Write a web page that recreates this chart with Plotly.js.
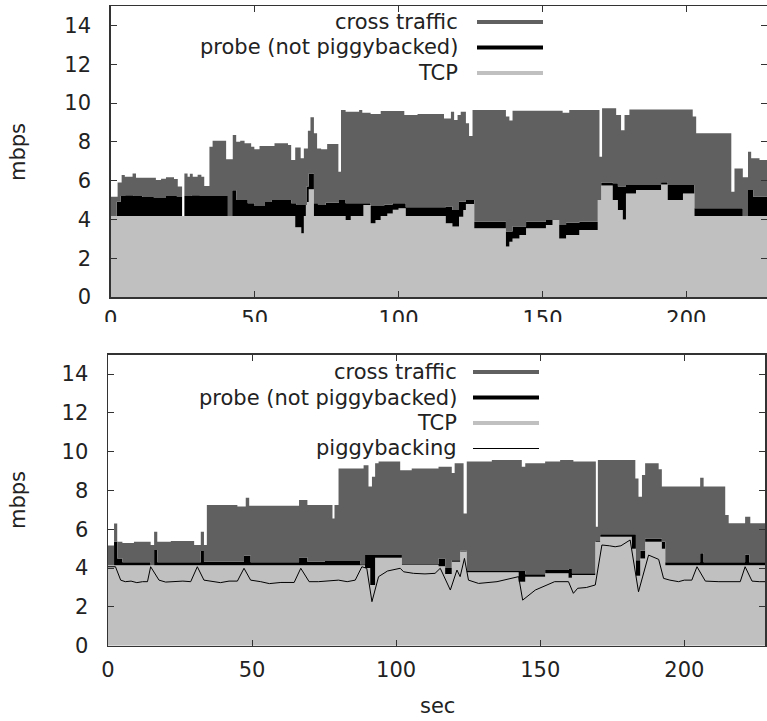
<!DOCTYPE html>
<html>
<head>
<meta charset="utf-8">
<script src="https://cdn.plot.ly/plotly-3.0.1.min.js"></script>
<style>html,body{margin:0;padding:0;background:#fff;}#chart{width:767px;height:721px;}</style>
</head>
<body>
<div id="chart"></div>
<script>
// ---------- Top panel (without piggybacking) ----------
// step breakpoints: x (sec) where each value starts, value = top of band (mbps)
var topTotalX = [0,2.4,3.8,4.9,7.6,8.8,15.7,17.5,19.2,22,23.3,24.8,25.6,26.7,27.5,28.5,30.2,31.5,32.5,34.3,35.4,40.1,42.4,43.6,45,46.5,48.8,49.9,51.7,56.9,61.6,62.7,64.1,66,67.1,68.5,69.4,70.6,71.7,73.1,75.2,79.1,80,81.6,86.3,87.4,90.3,93.8,102,106.6,115.8,118.2,119.3,120.5,121.6,123.4,124.5,125.7,137.3,138.5,139.6,157,159.3,169.8,170.7,175.6,177.3,178.5,180.2,202.2,203.4,215.6,216.7,219.6,221.4,222.5,225.4,228.5];
var topTotal  = [5.17,5.9,6.29,6.2,6.37,6.15,6.03,6.1,6.17,6.08,5.7,4.18,6.37,6.2,6.35,6.2,6.3,6.2,5.72,7.75,8.06,7.1,8.35,8.0,8.06,7.92,7.75,7.61,7.78,7.92,7.83,7.06,7.71,7.15,7.66,8.57,9.26,8.44,7.66,7.61,7.89,6.46,9.64,9.55,9.64,9.5,9.43,9.59,9.38,9.43,9.2,9.55,9.12,9.38,9.55,8.95,8.3,9.64,9.3,9.1,9.6,9.5,9.64,7.23,9.73,9.38,8.6,9.38,9.67,9.3,8.44,5.43,6.63,6.17,7.49,7.15,7.06,7.06];

var topTcpX = [0,64.1,66.2,67.1,67.8,68.8,70.6,81.6,83.4,87.8,90.3,92,93.8,96.1,98,100,102.5,116.4,118.7,121,122.5,123.4,126.3,137.3,138.5,139.6,142,144.3,151.2,153.5,155.8,158.2,162.8,169.2,170.4,174.4,176.2,177.9,179,182.5,191.2,193.5,198.8,202.8,228.5];
var topTcp  = [4.18,3.6,3.28,4.18,4.9,5.55,4.18,3.97,4.18,4.74,3.8,3.97,4.18,4.3,4.5,4.57,4.18,3.8,3.63,4.14,4.48,4.8,3.54,2.6,2.85,3.02,3.2,3.54,3.71,3.97,3.02,3.2,3.45,5.0,5.75,5.0,4.48,4.0,5.34,5.52,5.8,5.0,5.34,4.18,4.18];

var topProbeX = [0,2.1,3.5,5,8,11,15,19,23,24.8,25.6,28,31,36,40.7,42.2,43.6,47.6,50,53.4,56,62.7,64.4,68,68.8,70.6,72,74.7,79.3,81.6,87.4,90.3,95,97.9,102.5,116.4,118.7,121,123.4,126.3,137.3,139.6,144.3,151.2,155.8,158.2,162.8,169.2,170.4,174.4,176.2,179,191.2,193.5,202.8,219.6,221.4,223.2,228.5];
var topProbe  = [4.18,4.91,5.2,5.25,5.2,5.15,5.1,5.2,5.15,4.18,5.2,5.25,5.2,5.2,4.18,5.5,5.0,4.83,4.69,4.9,5.0,4.83,4.74,5.69,6.37,4.83,4.74,4.86,5.0,4.83,4.83,4.69,4.75,4.83,4.62,4.66,4.48,4.91,5.0,3.88,3.37,3.63,3.88,3.97,3.71,3.83,3.88,5.0,5.9,5.86,5.69,5.77,5.92,5.77,4.57,4.18,5.52,5.17,5.17];

// ---------- Bottom panel (with piggybacking) ----------
var botTotalX = [0,2.1,3.2,5,9,14.8,16,17.1,21.8,29.9,32.2,33.3,34.3,44.9,47.8,49,66.3,69.2,77.9,78.6,80,88.7,90.4,91.6,92.7,93.9,101.4,105.4,114.7,119.3,120.3,123.4,124.5,133.2,143.6,144.8,151.7,156.9,161.5,169.3,170,183,184.1,185.3,186.4,191.1,192.2,205.5,206.7,214.2,215.4,221.1,222.9,228.8];
var botTotal  = [5.16,6.3,5.36,5.3,5.36,5.19,5.88,5.36,5.4,5.19,5.88,5.19,7.25,7.17,7.63,7.22,7.51,7.25,6.56,7.25,9.14,9.3,8.2,8.71,9.4,9.49,9.05,9.14,9.22,8.9,9.4,6.82,9.5,9.57,9.22,9.4,9.49,9.57,9.49,6.13,9.57,8.62,7.68,8.8,9.4,9.1,8.2,8.66,8.2,6.74,6.31,6.65,6.31,6.31];

var botTcpX = [0,89.2,91,92.7,102,114.7,117,119.3,122.2,124.5,142.5,144.8,151.7,159.8,161,169.1,170.8,181.8,183.2,184.7,186.4,192.2,193.4,228.8];
var botTcp  = [4.15,4.0,3.13,4.53,4.16,4.1,3.7,4.33,4.85,3.78,3.3,3.56,3.73,3.5,3.64,5.36,5.62,5.0,3.6,4.5,5.36,5.0,4.15,4.15];

var botProbeX = [0,2.1,3.2,5,14.8,16,17.1,32.2,33.3,47.2,49.5,66.3,69.2,75.3,87.5,89.2,92.7,102,114.7,117,119.3,122.2,124.5,142.5,144.8,151.7,159.8,161,169.1,170.8,181.8,183.2,184.7,186.4,192.2,193.4,205.5,206.7,221.1,222.5,228.8];
var botProbe  = [4.15,5.36,4.5,4.3,4.15,4.93,4.3,4.88,4.33,4.64,4.3,4.54,4.33,4.36,4.2,4.67,4.67,4.2,4.5,4.0,4.4,4.9,3.85,3.85,3.68,3.9,3.95,3.73,5.4,5.74,5.74,4.4,4.9,5.53,5.36,4.3,4.76,4.3,4.7,4.3,4.3];

var pigX = [0,2.6,4.4,6,8,10,12,13.7,14.8,17.7,20,23,26,28.7,31,33.3,36,39,42,44.9,47.2,49.5,53,56,60,64.6,66.9,69.8,73,76.7,80,83,85.8,88.1,89.8,91.6,93.9,97,101.4,102.6,106,110,113.5,115.3,118.8,121.1,122.2,123.7,125.1,128.6,135,142.5,143.9,148.3,151.7,155,159.8,161.5,163,166,169.1,171.4,174,176,178,181.2,184.1,187.6,191.1,192.8,195,198,200,202.6,204.4,207.3,212,216,219.4,221.1,223.5,226,228.8];
var pig  = [4.07,4.07,3.38,3.3,3.33,3.25,3.3,3.3,4.07,3.38,3.28,3.3,3.33,3.3,4.07,3.38,3.33,3.25,3.33,3.33,3.99,3.38,3.3,3.2,3.26,3.26,3.99,3.3,3.3,3.33,3.38,3.3,3.38,4.07,3.99,2.27,3.56,3.85,3.99,3.81,3.73,3.7,3.73,3.99,2.87,3.9,3.56,4.5,3.38,3.21,3.3,3.56,2.35,2.87,3.1,3.3,3.3,2.7,2.96,3.0,3.13,5.19,5.15,5.1,5.15,5.45,2.78,4.67,4.45,3.47,3.38,3.3,3.38,3.38,4.07,3.33,3.3,3.28,3.3,4.07,3.33,3.3,3.3];

var legendTop = ['cross traffic','probe (not piggybacked)','TCP'];
var legendBot = ['cross traffic','probe (not piggybacked)','TCP','piggybacking'];

var xTicks = [0,50,100,150,200];
var yTicks = [0,2,4,6,8,10,12,14];

var CROSS = '#606060', PROBE = '#000000', TCPC = '#c0c0c0';
var FONT = 'DejaVu Sans';
var FS = 21;
var W = 767, H = 721;
function px(x){return x/W;}
function py(y){return (H-y)/H;}

function band(x, y, xa, ya, color, fill){
  return {x:x, y:y, xaxis:xa, yaxis:ya, type:'scatter', mode:'lines',
    line:{width:0, shape:'hv', color:color}, fill:fill, fillcolor:color,
    hoverinfo:'skip', showlegend:false};
}

var traces = [
  band(topTcpX, topTcp, 'x', 'y', TCPC, 'tozeroy'),
  band(topProbeX, topProbe, 'x', 'y', PROBE, 'tonexty'),
  band(topTotalX, topTotal, 'x', 'y', CROSS, 'tonexty'),
  band(botTcpX, botTcp, 'x2', 'y2', TCPC, 'tozeroy'),
  band(botProbeX, botProbe, 'x2', 'y2', PROBE, 'tonexty'),
  band(botTotalX, botTotal, 'x2', 'y2', CROSS, 'tonexty'),
  {x:pigX, y:pig, xaxis:'x2', yaxis:'y2', type:'scatter', mode:'lines',
   line:{width:1, color:'#000'}, hoverinfo:'skip', showlegend:false}
];

function xax(domain, anchor, standoff){
  return {domain:domain, anchor:anchor, range:[0,228], tickvals:xTicks, ticktext:xTicks.map(String),
    ticks:'inside', ticklen:6, tickwidth:1, tickcolor:'#333', showline:true, linecolor:'#333', linewidth:1.5,
    mirror:'ticks', showgrid:false, zeroline:false, ticklabelstandoff:standoff,
    tickfont:{family:FONT, size:FS, color:'#222'}};
}
function yax(domain, anchor){
  return {domain:domain, anchor:anchor, range:[0,15], tickvals:yTicks, ticktext:yTicks.map(String),
    ticks:'inside', ticklen:6, tickwidth:1, tickcolor:'#333', showline:true, linecolor:'#333', linewidth:1.5,
    mirror:'ticks', showgrid:false, zeroline:false, ticklabelstandoff:14,
    tickfont:{family:FONT, size:FS, color:'#222'}};
}

var annotations = [];
var shapes = [];
// hide lower part of the top panel tick labels (as in the reference crop)
shapes.push({type:'rect', xref:'paper', yref:'paper', x0:0, x1:1, y0:py(353), y1:py(322),
  fillcolor:'#fff', line:{width:0}, layer:'above'});

var legColors = [CROSS, PROBE, TCPC, '#000'];
var legWidths = [4, 4, 4, 1];
function addLegend(names, yStart, textRight, lx0, lx1){
  names.forEach(function(n, i){
    var yy = yStart + i*25.5;
    annotations.push({xref:'paper', yref:'paper', x:px(textRight), y:py(yy), xanchor:'right', yanchor:'middle',
      text:n, showarrow:false, font:{family:FONT, size:FS, color:'#222'}});
    shapes.push({type:'line', xref:'paper', yref:'paper', x0:px(lx0), x1:px(lx1), y0:py(yy), y1:py(yy),
      line:{color:legColors[i], width:legWidths[i]}, layer:'above'});
  });
}
addLegend(legendTop, 22, 460, 477, 543);
addLegend(legendBot, 372, 459, 473, 539);

annotations.push({xref:'paper', yref:'paper', x:px(18), y:py(152), text:'mbps', textangle:-90,
  showarrow:false, font:{family:FONT, size:FS, color:'#222'}, xanchor:'center', yanchor:'middle'});
annotations.push({xref:'paper', yref:'paper', x:px(18), y:py(500), text:'mbps', textangle:-90,
  showarrow:false, font:{family:FONT, size:FS, color:'#222'}, xanchor:'center', yanchor:'middle'});
annotations.push({xref:'paper', yref:'paper', x:px(437), y:py(706), text:'sec',
  showarrow:false, font:{family:FONT, size:FS, color:'#222'}, xanchor:'center', yanchor:'middle'});

var layout = {
  width:W, height:H, margin:{l:0, r:0, t:0, b:0}, paper_bgcolor:'#fff', plot_bgcolor:'#fff',
  showlegend:false,
  xaxis: xax([px(110.7), 1], 'y', 2),
  yaxis: yax([py(297), py(6)], 'x'),
  xaxis2: xax([px(108), px(765)], 'y2', 5),
  yaxis2: yax([py(645.7), py(354.7)], 'x2'),
  annotations:annotations, shapes:shapes
};

Plotly.newPlot('chart', traces, layout, {displayModeBar:false, staticPlot:true});
</script>
</body>
</html>
